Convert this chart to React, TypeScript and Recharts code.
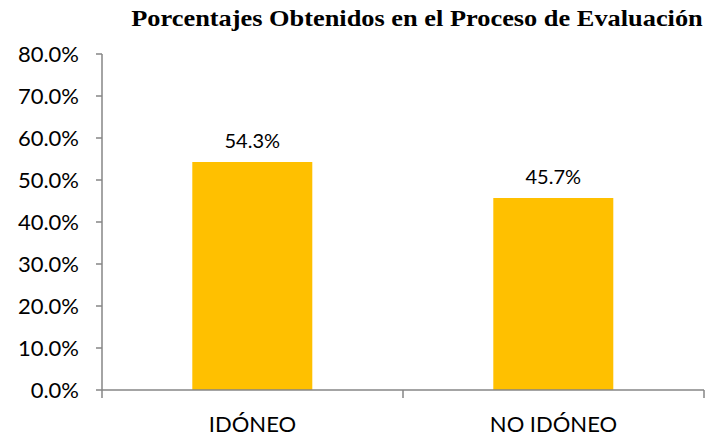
import React from 'react';
import { BarChart, Bar, XAxis, YAxis, LabelList } from 'recharts';

const categories = ['IDÓNEO', 'NO IDÓNEO'];
const percentages = [54.3, 45.7];
const yTicks = [0, 10, 20, 30, 40, 50, 60, 70, 80];

const chartTitle = 'Porcentajes Obtenidos en el Proceso de Evaluación';

const data = categories.map((name, i) => ({ name, value: percentages[i] }));

const AXIS_COLOR = '#868686';
const FONT = 'Lato, "Open Sans", sans-serif';
const PLOT_W = 601;
const LABEL_GAP = 26;

const pct = (v: number) => `${Number(v).toFixed(1)}%`;

// category tick: label in the middle, tick marks on the band edges (like Excel)
const CategoryTick = (props: any) => {
  const { x, y, payload, index } = props;
  const half = payload && payload.offset ? payload.offset : PLOT_W / categories.length / 2;
  const axisY = y - LABEL_GAP;
  const isLast = index === categories.length - 1;
  return (
    <g>
      <line x1={x - half} x2={x - half} y1={axisY} y2={axisY + 8} stroke={AXIS_COLOR} strokeWidth={1.5} />
      {isLast && (
        <line x1={x + half} x2={x + half} y1={axisY} y2={axisY + 8} stroke={AXIS_COLOR} strokeWidth={1.5} />
      )}
      <text x={x} y={y} dy="0.71em" textAnchor="middle" fill="#000" fontSize={22} fontFamily={FONT}>
        {payload.value}
      </text>
    </g>
  );
};

export default function App() {
  return (
    <div style={{ position: 'absolute', left: 0, top: 0, width: 707, height: 436, background: '#fff' }}>
      <div
        style={{
          position: 'absolute',
          top: 7,
          left: 417,
          transform: 'translateX(-50%) scaleX(1.146)',
          whiteSpace: 'nowrap',
          fontFamily: '"Liberation Serif", "Times New Roman", serif',
          fontWeight: 'bold',
          fontSize: 23,
          lineHeight: '23px',
          color: '#000',
        }}
      >
        {chartTitle}
      </div>
      <BarChart
        width={707}
        height={436}
        data={data}
        margin={{ top: 54, right: 3, bottom: 0, left: 0 }}
        barCategoryGap="30%"
      >
        <XAxis
          dataKey="name"
          height={46}
          axisLine={{ stroke: AXIS_COLOR, strokeWidth: 1.5 }}
          tickLine={false}
          tickSize={0}
          tickMargin={LABEL_GAP}
          tick={<CategoryTick />}
          interval={0}
        />
        <YAxis
          width={102}
          domain={[0, 80]}
          ticks={yTicks}
          interval={0}
          tickFormatter={pct}
          axisLine={{ stroke: AXIS_COLOR, strokeWidth: 1.5 }}
          tickLine={{ stroke: AXIS_COLOR, strokeWidth: 1.5 }}
          tickSize={6}
          tickMargin={17}
          tick={{ fill: '#000', fontSize: 22, fontFamily: FONT }}
        />
        <Bar dataKey="value" fill="#FFC000" isAnimationActive={false}>
          <LabelList
            dataKey="value"
            position="top"
            offset={14}
            formatter={(v: any) => pct(v)}
            style={{ fill: '#000', fontSize: 20, fontFamily: FONT }}
          />
        </Bar>
      </BarChart>
    </div>
  );
}
